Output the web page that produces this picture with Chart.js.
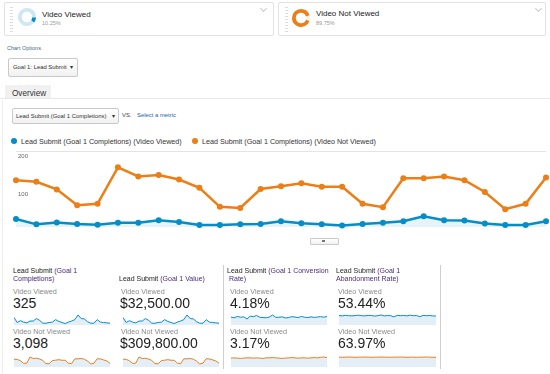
<!DOCTYPE html>
<html>
<head>
<meta charset="utf-8">
<script src="https://cdn.jsdelivr.net/npm/chart.js@4.4.1/dist/chart.umd.min.js"></script>
<style>
  body { margin: 0; width: 550px; height: 374px; position: relative; overflow: hidden; background: #fff;
         font-family: Arial, "Liberation Sans", sans-serif; color: #222; }
  .abs { position: absolute; white-space: nowrap; }
  .card { position: absolute; top: 2px; height: 32px; border: 1px solid #e2e2e2; border-radius: 2px; }
  .handle { position: absolute; top: 7px; width: 3px; height: 25px;
            background: repeating-linear-gradient(to bottom, #dcdcdc 0 1px, transparent 1px 3px); }
  .chev { position: absolute; top: 6px; width: 4px; height: 4px; border-right: 1px solid #c8c8c8;
          border-bottom: 1px solid #c8c8c8; transform: rotate(45deg); }
  .segname { font-size: 8px; line-height: 10px; color: #222; }
  .segpct { font-size: 5.5px; line-height: 7px; color: #999; }
  .btn { position: absolute; border: 1px solid #c9c9c9; border-radius: 2px;
         background: linear-gradient(#fff, #f1f1f1); font-size: 5.9px; color: #333; }
  .head { font-size: 7px; line-height: 8px; color: #222; }
  .head span { color: #4b2a80; }
  .lab { font-size: 7.2px; line-height: 8px; color: #8a8a8a; }
  .num { font-size: 14px; line-height: 14px; color: #222; }
  .vline { position: absolute; width: 1px; background: #cfcfcf; }
</style>
</head>
<body>

<!-- segment cards -->
<div class="card" style="left:4px;width:268px"></div>
<div class="handle" style="left:10px"></div>
<canvas id="donutA" class="abs" width="18" height="18" style="left:18px;top:8px"></canvas>
<div class="abs segname" style="left:42px;top:10px">Video Viewed</div>
<div class="abs segpct" style="left:42px;top:20px">10.25%</div>
<div class="chev" style="left:261px"></div>

<div class="card" style="left:278px;width:266px"></div>
<div class="handle" style="left:285px"></div>
<canvas id="donutB" class="abs" width="18" height="18" style="left:292px;top:9px"></canvas>
<div class="abs segname" style="left:316px;top:9px">Video Not Viewed</div>
<div class="abs segpct" style="left:316px;top:20px">89.75%</div>
<div class="chev" style="left:536px"></div>

<!-- chart options -->
<div class="abs" style="left:7px;top:45px;font-size:5.5px;color:#4a6a8a">Chart Options</div>
<div class="btn" style="left:8px;top:58px;width:68px;height:17px">
  <span class="abs" style="left:4px;top:5px">Goal 1: Lead Submit</span>
  <span class="abs" style="left:61px;top:5px">&#9662;</span>
</div>

<!-- overview tab -->
<div class="abs" style="left:0;top:98px;width:550px;height:1px;background:#e8e8e8"></div>
<div class="abs" style="left:5px;top:85px;width:46px;height:13px;background:#f1f1f1"></div>
<div class="abs" style="left:12px;top:89px;font-size:8.2px;color:#333">Overview</div>
<div class="abs" style="left:2px;top:100px;width:1px;height:274px;background:#ececec"></div>

<div class="btn" style="left:12px;top:108px;width:105px;height:14px">
  <span class="abs" style="left:3px;top:4px">Lead Submit (Goal 1 Completions)</span>
  <span class="abs" style="left:99px;top:4px">&#9662;</span>
</div>
<div class="abs" style="left:122px;top:112px;font-size:5.9px;color:#444">VS.</div>
<div class="abs" style="left:137px;top:112px;font-size:5.9px;color:#1a5fa6">Select a metric</div>

<!-- legend -->
<div class="abs" style="left:11px;top:138px;width:6px;height:6px;border-radius:50%;background:#058dc7"></div>
<div class="abs" style="left:21px;top:137px;font-size:7.2px;color:#333">Lead Submit (Goal 1 Completions) (Video Viewed)</div>
<div class="abs" style="left:192px;top:138px;width:6px;height:6px;border-radius:50%;background:#ed7e17"></div>
<div class="abs" style="left:202px;top:137px;font-size:7.2px;color:#333">Lead Submit (Goal 1 Completions) (Video Not Viewed)</div>

<!-- main chart -->
<canvas id="mainChart" class="abs" width="550" height="100" style="left:0;top:145px"></canvas>
<div class="btn" style="left:310px;top:238px;width:27px;height:5px;border-radius:1px"></div>
<div class="abs" style="left:322px;top:240px;width:3px;height:2px;background:#777"></div>

<!-- scorecards -->
<div class="vline" style="left:223px;top:265px;height:104px"></div>
<div class="vline" style="left:440px;top:265px;height:104px"></div>

<div class="abs head" style="left:13px;top:267px">Lead Submit <span>(Goal 1<br>Completions)</span></div>
<div class="abs lab" style="left:13px;top:288px">Video Viewed</div>
<div class="abs num" style="left:13px;top:296px">325</div>
<canvas id="sp1a" class="abs" width="96" height="13" style="left:14px;top:312px"></canvas>
<div class="abs lab" style="left:13px;top:328px">Video Not Viewed</div>
<div class="abs num" style="left:13px;top:336px">3,098</div>
<canvas id="sp1b" class="abs" width="96" height="13" style="left:14px;top:354px"></canvas>

<div class="abs head" style="left:119px;top:275px">Lead Submit <span>(Goal 1 Value)</span></div>
<div class="abs lab" style="left:121px;top:288px">Video Viewed</div>
<div class="abs num" style="left:120px;top:296px">$32,500.00</div>
<canvas id="sp2a" class="abs" width="96" height="13" style="left:123px;top:312px"></canvas>
<div class="abs lab" style="left:121px;top:328px">Video Not Viewed</div>
<div class="abs num" style="left:120px;top:336px">$309,800.00</div>
<canvas id="sp2b" class="abs" width="96" height="13" style="left:123px;top:354px"></canvas>

<div class="abs head" style="left:227px;top:267px">Lead Submit <span>(Goal 1 Conversion<br>&nbsp;Rate)</span></div>
<div class="abs lab" style="left:230px;top:288px">Video Viewed</div>
<div class="abs num" style="left:230px;top:296px">4.18%</div>
<canvas id="sp3a" class="abs" width="96" height="13" style="left:231px;top:312px"></canvas>
<div class="abs lab" style="left:230px;top:328px">Video Not Viewed</div>
<div class="abs num" style="left:230px;top:336px">3.17%</div>
<canvas id="sp3b" class="abs" width="96" height="13" style="left:231px;top:354px"></canvas>

<div class="abs head" style="left:336px;top:267px">Lead Submit <span>(Goal 1<br>Abandonment Rate)</span></div>
<div class="abs lab" style="left:338px;top:288px">Video Viewed</div>
<div class="abs num" style="left:338px;top:296px">53.44%</div>
<canvas id="sp4a" class="abs" width="97" height="13" style="left:339px;top:312px"></canvas>
<div class="abs lab" style="left:338px;top:328px">Video Not Viewed</div>
<div class="abs num" style="left:338px;top:336px">63.97%</div>
<canvas id="sp4b" class="abs" width="97" height="13" style="left:339px;top:354px"></canvas>

<script>
// days shown in the main chart, plus the four extra days the sparklines cover
const days = ['Jul 23', 'Jul 24', 'Jul 25', 'Jul 26', 'Jul 27', 'Jul 28', 'Jul 29', 'Jul 30', 'Jul 31',
  'Aug 1', 'Aug 2', 'Aug 3', 'Aug 4', 'Aug 5', 'Aug 6', 'Aug 7', 'Aug 8', 'Aug 9', 'Aug 10', 'Aug 11',
  'Aug 12', 'Aug 13', 'Aug 14', 'Aug 15', 'Aug 16', 'Aug 17', 'Aug 18'];
const extraDays = ['Aug 19', 'Aug 20', 'Aug 21', 'Aug 22'];
const tickDays = ['Jul 29', 'Aug 5', 'Aug 12'];
const yTicks = [100, 200];

// Goal 1 completions per day
const viewed = [21, 7, 12, 8, 6, 11, 11, 18, 13, 5, 5, 7, 8, 15, 10, 7, 4, 8, 11, 15, 28, 18, 17, 9, 5, 5, 15];
const viewedExtra = [8, 7, 6, 5];
const notViewed = [123, 119, 99, 57, 61, 157, 133, 137, 125, 103, 53, 50, 100, 107, 115, 106, 106, 61, 52,
  128, 128, 133, 123, 92, 47, 61, 130];
const notViewedExtra = [126, 112, 96, 58];

// conversion rate and abandonment rate per day (sparklines)
const convViewed = [4.3, 3.9, 4.6, 4.2, 4.4, 3.2, 4.8, 4.5, 5.1, 4.2, 4.0, 3.9, 4.3, 5.4, 4.1, 4.2,
  4.4, 3.8, 4.0, 4.5, 4.3, 4.0, 4.6, 4.2, 4.0, 4.4, 4.1, 4.3, 4.5, 4.2, 4.6];
const convNotViewed = [3.1, 3.2, 3.1, 3.0, 3.1, 3.2, 3.2, 3.1, 3.2, 3.1, 3.0, 3.2, 3.2, 3.3, 3.2, 3.1,
  3.0, 3.1, 3.2, 3.3, 3.2, 3.1, 3.2, 3.2, 3.1, 3.2, 3.3, 3.2, 3.4, 3.5, 3.3];
const abandViewed = [54, 52, 55, 53, 52, 54, 56, 53, 52, 55, 54, 51, 53, 57, 52, 54, 53, 46, 55, 53,
  54, 52, 56, 53, 54, 47, 55, 53, 54, 52, 51];
const abandNotViewed = [64, 63, 64, 65, 64, 63, 64, 64, 65, 64, 63, 64, 64, 65, 64, 64, 63, 64, 64, 65,
  64, 63, 64, 64, 63, 64, 64, 65, 64, 63, 63];

// segment shares
const segShare = [10.25, 89.75];

const BLUE = '#058dc7';
const ORANGE = '#ed7e17';
const quiet = { legend: { display: false }, tooltip: { enabled: false } };

function donut(id, colors, rotation) {
  new Chart(document.getElementById(id), {
    type: 'doughnut',
    data: { datasets: [{ data: segShare, backgroundColor: colors, borderWidth: 0 }] },
    options: { responsive: false, animation: false, events: [], cutout: '58%', rotation: rotation, plugins: quiet }
  });
}
donut('donutA', [BLUE, '#cfe6f3'], 92);
donut('donutB', ['#fdf1e6', ORANGE], 72);

// main line chart
new Chart(document.getElementById('mainChart'), {
  type: 'line',
  data: {
    labels: days,
    datasets: [{
      data: viewed,
      borderColor: BLUE,
      backgroundColor: 'rgba(5,141,199,0.1)',
      pointBackgroundColor: BLUE,
      borderWidth: 2.5,
      pointRadius: 3,
      pointBorderWidth: 0,
      fill: 'origin',
      clip: false
    }, {
      data: notViewed,
      borderColor: ORANGE,
      pointBackgroundColor: ORANGE,
      borderWidth: 2.5,
      pointRadius: 3,
      pointBorderWidth: 0,
      fill: false,
      clip: false
    }]
  },
  options: {
    responsive: false,
    animation: false,
    events: [],
    layout: { padding: { left: 16, right: 3, top: 6, bottom: 6 } },
    plugins: quiet,
    scales: {
      x: {
        grid: { display: false },
        border: { display: false },
        afterFit: s => { s.height = 12; },
        ticks: {
          autoSkip: false,
          maxRotation: 0,
          padding: 3,
          color: '#555',
          font: { size: 6.5, family: 'Arial' },
          callback: (v, i) => tickDays.includes(days[i]) ? days[i] : ''
        }
      },
      y: {
        min: 0,
        max: 200,
        afterFit: s => { s.width = 0; },
        border: { display: false },
        grid: {
          drawTicks: false,
          color: c => c.tick && c.tick.value === 200 ? '#e4e4e4' : 'rgba(0,0,0,0)'
        },
        ticks: {
          stepSize: 100,
          mirror: true,
          padding: 2,
          labelOffset: 5,
          color: '#666',
          font: { size: 6, family: 'Arial' },
          callback: v => yTicks.includes(v) ? String(v) : ''
        }
      }
    }
  }
});

// sparklines
function sparkline(id, values, color) {
  new Chart(document.getElementById(id), {
    type: 'line',
    data: {
      labels: days.concat(extraDays),
      datasets: [{
        data: values, borderColor: color, borderWidth: 1, pointRadius: 0,
        fill: 'origin', backgroundColor: '#e3eef7'
      }]
    },
    options: {
      responsive: false,
      animation: false,
      events: [],
      plugins: quiet,
      scales: {
        x: { display: false },
        y: {
          display: false,
          bounds: 'data',
          afterDataLimits: s => { s.min = 0; s.max = s.max * 1.3; }
        }
      }
    }
  });
}

// goal value is $100 per completion, so its sparklines follow the completions
sparkline('sp1a', viewed.concat(viewedExtra), BLUE);
sparkline('sp1b', notViewed.concat(notViewedExtra), ORANGE);
sparkline('sp2a', viewed.concat(viewedExtra), BLUE);
sparkline('sp2b', notViewed.concat(notViewedExtra), ORANGE);
sparkline('sp3a', convViewed, BLUE);
sparkline('sp3b', convNotViewed, ORANGE);
sparkline('sp4a', abandViewed, BLUE);
sparkline('sp4b', abandNotViewed, ORANGE);
</script>
</body>
</html>
